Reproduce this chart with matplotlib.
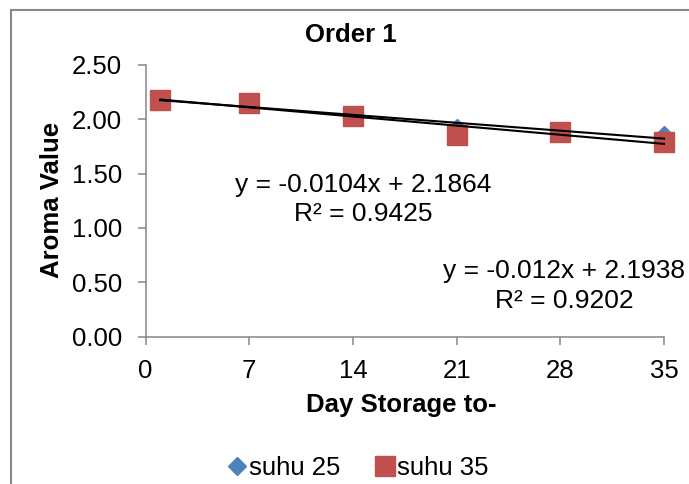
import matplotlib.pyplot as plt
import matplotlib.patches as patches
import numpy as np

plt.rcParams['font.family'] = ['Liberation Sans', 'DejaVu Sans']

# data
days = [1, 7, 14, 21, 28, 35]
suhu25 = [2.18, 2.15, 2.03, 1.92, 1.89, 1.86]
suhu35 = [2.18, 2.15, 2.03, 1.86, 1.88, 1.79]
fit25 = (-0.0104, 2.1864, 0.9425)
fit35 = (-0.012, 2.1938, 0.9202)
xticks = [0, 7, 14, 21, 28, 35]
yticks = [0.0, 0.5, 1.0, 1.5, 2.0, 2.5]

W, H = 689, 484
fig = plt.figure(figsize=(W / 100, H / 100), dpi=100)
ax = fig.add_axes([145.5 / W, 1 - 336.5 / H, 518.5 / W, 271.5 / H])

# outer chart border (only left/top visible)
fig.patches.append(patches.Rectangle((11 / W, -0.1), 2, 1 - 9.5 / H + 0.1, transform=fig.transFigure,
                                     fill=False, edgecolor='#878787', linewidth=1.5))

ax.plot(days, suhu25, 'D', color='#4F81BD', markersize=9.2, label='suhu 25', zorder=3, clip_on=False)
ax.plot(days, suhu35, 's', color='#C0504D', markersize=14.8, label='suhu 35', zorder=4, clip_on=False)

xs = np.array([days[0], days[-1]])
for m, b, r2 in (fit25, fit35):
    ax.plot(xs, m * xs + b, color='black', linewidth=1.5, zorder=5, clip_on=False)

fs = 18.5
ax.text(14.68, 1.333, 'y = %gx + %g' % (fit25[0], fit25[1]), ha='center', va='baseline', fontsize=19)
ax.text(14.68, 1.064, 'R² = %g' % fit25[2], ha='center', va='baseline', fontsize=19)
ax.text(28.25, 0.539, 'y = %gx + %g' % (fit35[0], fit35[1]), ha='center', va='baseline', fontsize=19)
ax.text(28.25, 0.262, 'R² = %g' % fit35[2], ha='center', va='baseline', fontsize=19)

ax.set_xlim(0, 35)
ax.set_ylim(0, 2.5)
ax.set_xticks(xticks)
ax.set_yticks(yticks)
ax.set_yticklabels(['%.2f' % v for v in yticks])
ax.tick_params(labelsize=fs, color='#868686', length=6, width=1.1)
ax.tick_params(axis='y', pad=11)
ax.tick_params(axis='x', pad=10)
for s in ['top', 'right']:
    ax.spines[s].set_visible(False)
for s in ['left', 'bottom']:
    ax.spines[s].set_color('#868686')
    ax.spines[s].set_linewidth(1.1)

fig.text(351 / W, 1 - 42 / H, 'Order 1', ha='center', va='baseline', fontsize=18.5, fontweight='bold')
ax.set_xlabel('Day Storage to-', fontsize=fs, fontweight='bold')
ax.xaxis.set_label_coords(0.494, -0.208)
ax.set_ylabel('Aroma Value', fontsize=fs, fontweight='bold')
ax.yaxis.set_label_coords(-0.158, 0.503)

ax.legend(loc='center', bbox_to_anchor=(357.5 / W, 1 - 468 / H), bbox_transform=fig.transFigure,
          ncol=2, frameon=False, fontsize=fs, handlelength=0.8, handletextpad=0.07,
          columnspacing=1.33, borderpad=0, borderaxespad=0)

fig.savefig('out.png', dpi=100)
